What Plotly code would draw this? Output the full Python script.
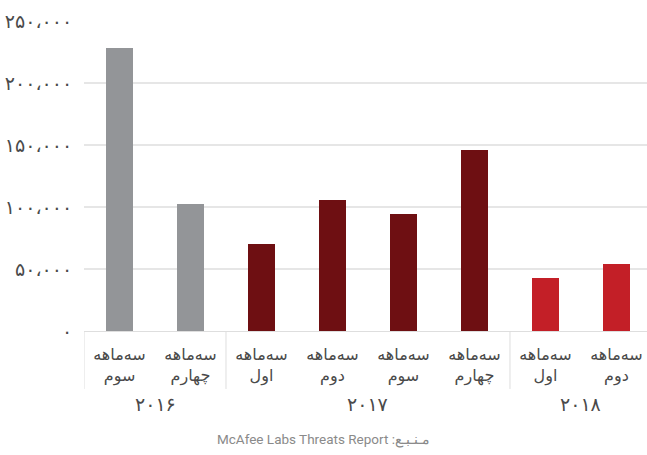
import plotly.graph_objects as go

# Quarterly counts (McAfee Labs Threats Report)
years = ["۲۰۱۶", "۲۰۱۶", "۲۰۱۷", "۲۰۱۷", "۲۰۱۷", "۲۰۱۷", "۲۰۱۸", "۲۰۱۸"]
quarters = ["سوم", "چهارم", "اول", "دوم", "سوم", "چهارم", "اول", "دوم"]
values = [228500, 102500, 70300, 105700, 94400, 145700, 42700, 54200]

y_ticks = [0, 50000, 100000, 150000, 200000, 250000]
y_tick_labels = ["۰", "۵۰،۰۰۰", "۱۰۰،۰۰۰", "۱۵۰،۰۰۰", "۲۰۰،۰۰۰", "۲۵۰،۰۰۰"]

year_colors = {"۲۰۱۶": "#939598", "۲۰۱۷": "#6e0f12", "۲۰۱۸": "#c31f27"}

positions = list(range(len(values)))
tick_text = ["سه\u200cماهه<br>" + q for q in quarters]

FONT = "DejaVu Sans"
TEXT = "#4a4a4a"

fig = go.Figure()
fig.add_trace(go.Bar(
    x=positions,
    y=values,
    width=0.38,
    marker=dict(color=[year_colors[y] for y in years], line=dict(width=0)),
    hoverinfo="y",
))

# group dividers and year labels below the quarter labels
groups = []
for i, y in enumerate(years):
    if groups and groups[-1][0] == y:
        groups[-1][2] = i
    else:
        groups.append([y, i, i])

shapes = []
annotations = []
for name, start, end in groups:
    shapes.append(dict(type="line", xref="x", yref="paper",
                       x0=start - 0.5, x1=start - 0.5, y0=0, y1=-0.187,
                       line=dict(color="#dedede", width=1)))
    annotations.append(dict(xref="x", yref="paper", x=(start + end) / 2,
                            y=-0.237, text=name, showarrow=False,
                            xanchor="center", yanchor="middle",
                            font=dict(family=FONT, size=19, color=TEXT)))

annotations.append(dict(xref="paper", yref="paper", x=0.425, y=-0.35,
                        text="McAfee Labs Threats Report :مـنـبـع",
                        showarrow=False, xanchor="center", yanchor="middle",
                        font=dict(family="Roboto", size=13.5, color="#8a8a8a")))

fig.update_layout(
    width=647, height=455,
    margin=dict(l=84, r=0, t=21, b=124),
    paper_bgcolor="white", plot_bgcolor="white",
    showlegend=False,
    bargap=0,
    shapes=shapes,
    annotations=annotations,
    xaxis=dict(
        range=[-0.5, 7.43],
        tickvals=positions, ticktext=tick_text,
        showgrid=False, zeroline=False,
        showline=True, linecolor="#dedede", linewidth=1,
        ticks="outside", ticklen=9, tickcolor="rgba(0,0,0,0)",
        tickfont=dict(family=FONT, size=16, color=TEXT),
    ),
    yaxis=dict(
        range=[0, 250000],
        tickvals=y_ticks, ticktext=y_tick_labels,
        showgrid=True, gridcolor="#e6e6e6", gridwidth=1.5,
        zeroline=False, showline=False,
        ticks="outside", ticklen=7, tickcolor="rgba(0,0,0,0)",
        tickfont=dict(family=FONT, size=19, color=TEXT),
    ),
)

fig.write_html("out.html")
